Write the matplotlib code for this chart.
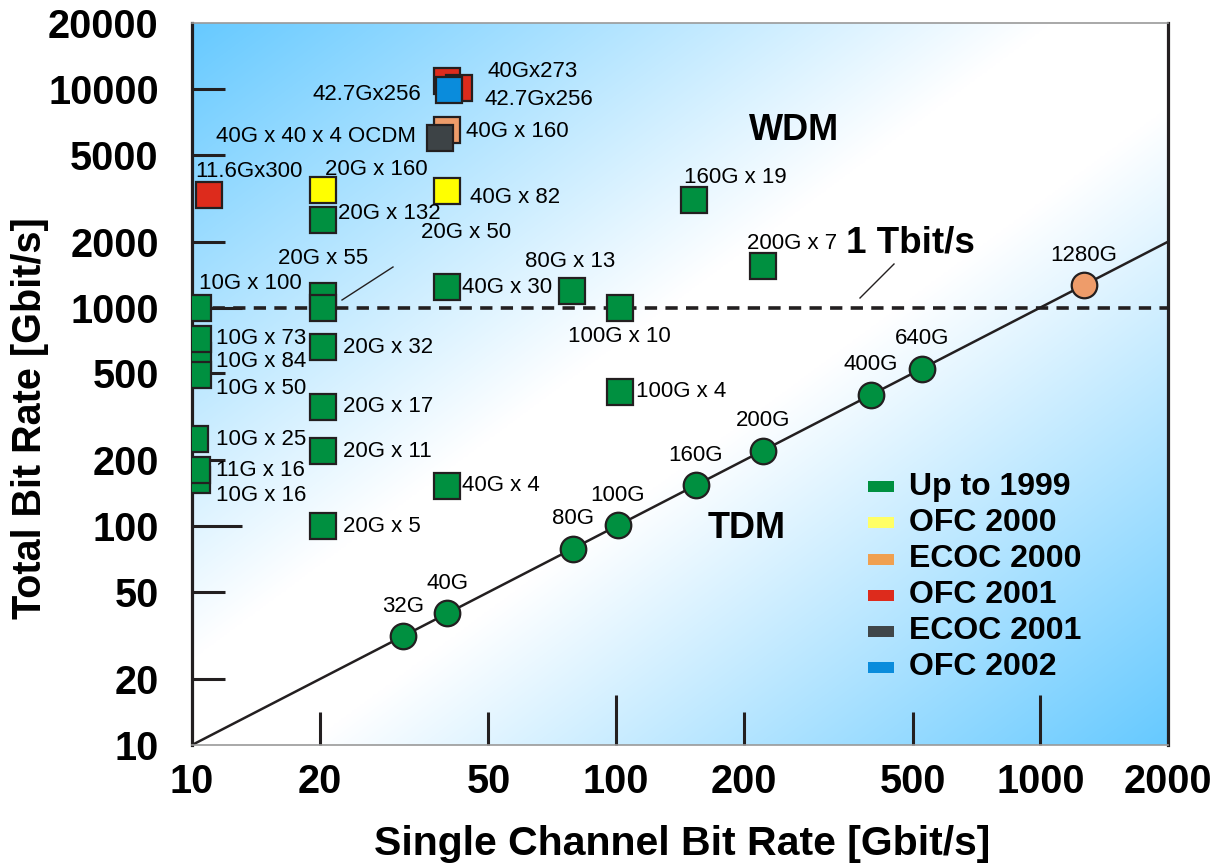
import numpy as np
import matplotlib
matplotlib.use("Agg")
import matplotlib.pyplot as plt
from matplotlib.patches import Rectangle

plt.rcParams['font.family'] = ['Liberation Sans', 'DejaVu Sans']

# ---------------- data ----------------
group_names = ['Up to 1999', 'OFC 2000', 'ECOC 2000', 'OFC 2001', 'ECOC 2001', 'OFC 2002']
marker_colors = ['#009040', '#FFFF00', '#EE9C6A', '#DD2B1C', '#3D4346', '#0A8CDC']
legend_colors = ['#009040', '#FFFF66', '#F0A050', '#DD2B1C', '#404649', '#0A8CDC']

# WDM experiments (squares): label, single-channel rate, total rate, group index
sq_labels = ['10G x 84', '10G x 73', '10G x 50', '10G x 100', '10G x 25', '10G x 16', '11G x 16',
             '20G x 55', '20G x 50', '20G x 132', '20G x 32', '20G x 17', '20G x 11', '20G x 5',
             '40G x 30', '40G x 4', '80G x 13', '100G x 10', '100G x 4', '160G x 19', '200G x 7',
             '20G x 160', '40G x 82', '40G x 160', '40G x 40 x 4 OCDM', '11.6Gx300',
             '40Gx273', '42.7Gx256', '42.7Gx256']
sq_rate = [10.35, 10.35, 10.35, 10.35, 10.15, 10.3, 10.3,
           20.4, 20.4, 20.4, 20.4, 20.4, 20.4, 20.4,
           40, 40, 78.7, 102, 102, 153, 222,
           20.4, 40, 40, 38.5, 10.95,
           40, 42.7, 40.4]
sq_total = [600, 720, 490, 1000, 250, 162, 180,
            1130, 1000, 2520, 660, 350, 220, 100,
            1240, 153, 1190, 1000, 410, 3100, 1550,
            3450, 3400, 6460, 5940, 3270,
            10830, 10120, 9840]
sq_group = [0] * 21 + [1, 1, 2, 4, 3, 3, 3, 5]

# label placement (pixel offsets from marker, alignment)
sq_dx = [17.5, 17.5, 17.5, 0.5, 21.5, 18.5, 18.5,
         -45, 98, 15, 20, 20, 20, 20,
         14.5, 14.5, -47, -51.6, 16.4, -10, -16,
         2, 22.5, 19, -24.5, -13,
         40, 25, -27.5]
sq_dy = [-5, 0, -13.5, 24, 0, -15, 0,
         37, 74.6, 6, 0, 1, 0, 0,
         0, 0, 30, -29.4, 1, 23, 22,
         20, -6, -1.5, 1.5, 24,
         9.5, -12, -4.3]
sq_ha = ['left'] * 24 + ['right', 'left', 'left', 'left', 'right']

# TDM experiments (circles on the single-channel line)
tdm_labels = ['32G', '40G', '80G', '100G', '160G', '200G', '400G', '640G', '1280G']
tdm_rate = [31.5, 40, 79, 101, 154, 222, 399, 525, 1265]
tdm_group = [0, 0, 0, 0, 0, 0, 0, 0, 2]

x_ticks = [10, 20, 50, 100, 200, 500, 1000, 2000]
y_ticks = [10, 20, 50, 100, 200, 500, 1000, 2000, 5000, 10000, 20000]
long_ticks = [100, 1000]

# ---------------- figure ----------------
W, H = 1226, 863
fig = plt.figure(figsize=(W / 100, H / 100), dpi=100)
L, R, T, B = 192, 1168, 23, 745
pos = [L / W, (H - B) / H, (R - L) / W, (B - T) / H]

# background gradient
bg = fig.add_axes(pos, zorder=0)
gw, gh = 600, 450
u = np.linspace(0, 1, gw)[None, :]
v = np.linspace(0, 1, gh)[:, None]
s = (u + v) / 2.0
d = np.clip((np.abs(s - 0.5) * 2.0 - 0.12) / 0.88, 0, 1)
blue = np.array([0.40, 0.79, 1.0])
img = (1 - d[..., None]) * np.ones(3) + d[..., None] * blue
bg.imshow(img, extent=[0, 1, 0, 1], aspect='auto', origin='upper', interpolation='bilinear')
bg.axis('off')

ax = fig.add_axes(pos, zorder=1)
ax.patch.set_alpha(0)
ax.set_xscale('log')
ax.set_yscale('log')

dark = '#231f20'

# reference lines
ax.axline((10, 10), (100, 100), color=dark, lw=1.8, zorder=2)
ax.axhline(1000, color=dark, lw=2.6, ls=(0, (3.4, 2.3)), zorder=2)

ms, mew = 18.4, 1.6
for i in range(len(sq_labels)):
    ax.plot(sq_rate[i], sq_total[i], marker='s', ms=ms, mew=mew, mec=dark,
            mfc=marker_colors[sq_group[i]], ls='none', zorder=3 + i * 0.01)
    ax.annotate(sq_labels[i], xy=(sq_rate[i], sq_total[i]), xytext=(sq_dx[i], sq_dy[i]),
                textcoords='offset pixels', ha=sq_ha[i], va='center', fontsize=16,
                color='black', zorder=5)

for i in range(len(tdm_labels)):
    ax.plot(tdm_rate[i], tdm_rate[i], marker='o', ms=ms, mew=mew, mec=dark,
            mfc=marker_colors[tdm_group[i]], ls='none', zorder=4)
    ax.annotate(tdm_labels[i], xy=(tdm_rate[i], tdm_rate[i]), xytext=(0, 30),
                textcoords='offset pixels', ha='center', va='center', fontsize=16, zorder=5)

# leader lines
def axfrac(px, py):
    return ((px - L) / (R - L), (B - py) / (B - T))

for (p0, p1) in [((342, 300), (393, 267)), ((860, 298), (894, 264))]:
    a, b = axfrac(*p0), axfrac(*p1)
    ax.plot([a[0], b[0]], [a[1], b[1]], transform=ax.transAxes, color=dark, lw=1.0, zorder=5)

# big annotations
ax.text(*axfrac(794, 130), 'WDM', transform=ax.transAxes, ha='center', va='center',
        fontsize=26, fontweight='bold', zorder=5)
ax.text(*axfrac(747, 528), 'TDM', transform=ax.transAxes, ha='center', va='center',
        fontsize=26, fontweight='bold', zorder=5)
ax.text(*axfrac(910, 243), '1 Tbit/s', transform=ax.transAxes, ha='center', va='center',
        fontsize=26.5, fontweight='bold', zorder=5)

# legend (manual)
for i, (name, col) in enumerate(zip(group_names, legend_colors)):
    yc = 487 + i * 36
    x0, y0 = axfrac(868, yc + 5.5)
    x1, y1 = axfrac(894, yc - 5.5)
    ax.add_patch(Rectangle((x0, y0), x1 - x0, y1 - y0, transform=ax.transAxes,
                           facecolor=col, edgecolor='none', zorder=5))
    ax.text(*axfrac(909, yc), name, transform=ax.transAxes, ha='left', va='center',
            fontsize=23, fontweight='bold', zorder=5)

# axes, ticks
ax.set_xlim(10, 2000)
ax.set_ylim(10, 20000)
xmaj = [t for t in x_ticks if t in long_ticks]
xmin = [t for t in x_ticks if t not in long_ticks]
ymaj = [t for t in y_ticks if t in long_ticks]
ymin = [t for t in y_ticks if t not in long_ticks]
tfont = dict(fontsize=28.5, fontweight='bold')
ax.set_xticks(xmaj, labels=[str(t) for t in xmaj], **tfont)
ax.set_xticks(xmin, labels=[str(t) for t in xmin], minor=True, **tfont)
ax.set_yticks(ymaj, labels=[str(t) for t in ymaj], **tfont)
ax.set_yticks(ymin, labels=[str(t) for t in ymin], minor=True, **tfont)
ax.tick_params(which='both', direction='in', width=2.2, color=dark, top=False, right=False)
ax.tick_params(which='major', length=36)
ax.tick_params(which='minor', length=24)
ax.tick_params(axis='y', which='both', pad=24)
ax.tick_params(axis='x', which='both', pad=13)
# no tick marks at the axis ends
ax.yaxis.get_minor_ticks()[0].tick1line.set_visible(False)
ax.yaxis.get_minor_ticks()[-1].tick1line.set_visible(False)
ax.xaxis.get_minor_ticks()[0].tick1line.set_visible(False)
ax.xaxis.get_minor_ticks()[-1].tick1line.set_visible(False)

for side in ['left', 'right']:
    ax.spines[side].set_linewidth(2.3)
    ax.spines[side].set_color(dark)
for side in ['top', 'bottom']:
    ax.spines[side].set_linewidth(1.2)
    ax.spines[side].set_color('#9a9a9a')

ax.set_xlabel('Single Channel Bit Rate [Gbit/s]', fontsize=29.5, fontweight='bold')
ax.set_ylabel('Total Bit Rate [Gbit/s]', fontsize=28.5, fontweight='bold')
ax.xaxis.set_label_coords(*axfrac(682, 844))
ax.yaxis.set_label_coords(*axfrac(30, 418))
ax.xaxis.label.set_va('center')
ax.yaxis.label.set_va('center')

fig.savefig('out.png', dpi=100)
